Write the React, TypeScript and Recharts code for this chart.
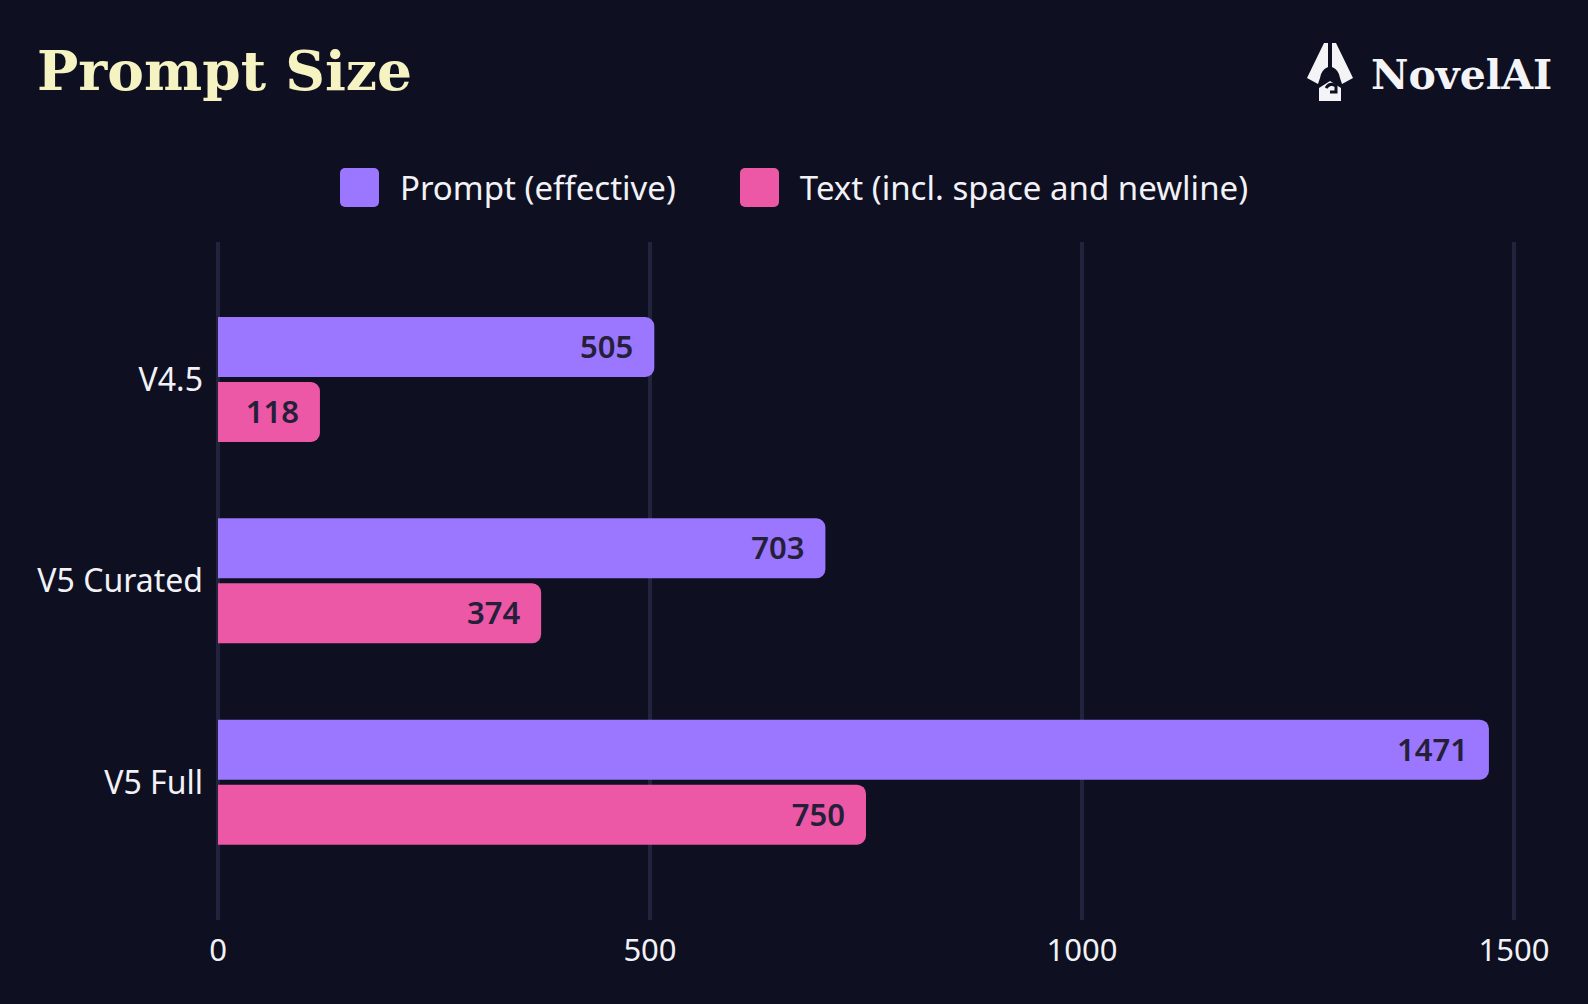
import { BarChart, Bar, XAxis, YAxis, CartesianGrid, LabelList } from "recharts";

const models = ["V4.5", "V5 Curated", "V5 Full"];
const promptEffective = [505, 703, 1471];
const textLength = [118, 374, 750];
const xTicks = [0, 500, 1000, 1500];

const data = models.map((model, i) => ({
  model,
  prompt: promptEffective[i],
  text: textLength[i],
}));

const BG = "#0e0f21";
const PURPLE = "#9b76ff";
const PINK = "#ec57a6";
const GRID = "#22243d";
const LABEL = "#24203a";
const FONT = "Noto Sans";

const legendItems = [
  { name: "Prompt (effective)", color: PURPLE },
  { name: "Text (incl. space and newline)", color: PINK },
];

const Logo = () => (
  <svg width={1588} height={130} style={{ position: "absolute", left: 0, top: 0 }}>
    <text
      x={37}
      y={90}
      fontFamily="DejaVu Serif"
      fontWeight={700}
      fontSize={55}
      fill="#f6f3c2"
    >
      Prompt Size
    </text>
    <g fill="#f4f4f6" transform="translate(1307,43)">
      <path d="M17 0 L21 0 L21 24 Q14 27 13 35 L11 41 L0 35 Z" />
      <path d="M29 0 L25 0 L25 24 Q32 27 33 35 L35 41 L46 35 Z" />
      <path d="M12 45 L23 38 L34 45 L34 58 L12 58 Z" />
    </g>
    <circle cx={1330} cy={75} r={5} fill={BG} />
    <path d="M1326 88 Q1330 82 1336 86 L1336 92 L1330 92" stroke={BG} strokeWidth={3} fill="none" />
    <text
      x={1371}
      y={89}
      fontFamily="DejaVu Serif"
      fontWeight={700}
      fontSize={41}
      fill="#f4f4f6"
    >
      NovelAI
    </text>
  </svg>
);

const Legend = () => (
  <div
    style={{
      position: "absolute",
      left: 0,
      top: 167,
      width: 1588,
      display: "flex",
      justifyContent: "center",
      gap: 64,
      fontFamily: FONT,
      fontSize: 33,
      color: "#f2f2f6",
    }}
  >
    {legendItems.map((it) => (
      <div key={it.name} style={{ display: "flex", alignItems: "center", height: 40 }}>
        <div
          style={{
            width: 39,
            height: 39,
            borderRadius: 5,
            background: it.color,
            marginRight: 21,
          }}
        />
        <span>{it.name}</span>
      </div>
    ))}
  </div>
);

export default function App() {
  return (
    <div
      style={{
        position: "absolute",
        left: 0,
        top: 0,
        width: 1588,
        height: 1004,
        background: BG,
        overflow: "hidden",
      }}
    >
      <Logo />
      <Legend />
      <div style={{ position: "absolute", left: 0, top: 0 }}>
        <BarChart
          width={1588}
          height={1004}
          data={data}
          layout="vertical"
          margin={{ top: 242, right: 74, bottom: 24, left: 0 }}
          barSize={60}
          barGap={5}
        >
          <CartesianGrid horizontal={false} vertical stroke={GRID} strokeWidth={4} />
          <XAxis
            type="number"
            domain={[0, 1500]}
            ticks={xTicks}
            axisLine={false}
            tickLine={false}
            tickSize={0}
            tickMargin={19}
            height={60}
            tick={{ fill: "#f2f2f6", fontSize: 31, fontFamily: FONT }}
          />
          <YAxis
            type="category"
            dataKey="model"
            width={218}
            axisLine={false}
            tickLine={false}
            tickSize={0}
            tickMargin={15}
            padding={{ top: 37, bottom: 37 }}
            tick={{ fill: "#f2f2f6", fontSize: 32, fontFamily: FONT }}
          />
          <Bar dataKey="prompt" fill={PURPLE} radius={[0, 9, 9, 0]} isAnimationActive={false}>
            <LabelList
              dataKey="prompt"
              position="insideRight"
              offset={21}
              fill={LABEL}
              fontSize={31}
              fontWeight={600}
              fontFamily={FONT}
            />
          </Bar>
          <Bar dataKey="text" fill={PINK} radius={[0, 9, 9, 0]} isAnimationActive={false}>
            <LabelList
              dataKey="text"
              position="insideRight"
              offset={21}
              fill={LABEL}
              fontSize={31}
              fontWeight={600}
              fontFamily={FONT}
            />
          </Bar>
        </BarChart>
      </div>
    </div>
  );
}
